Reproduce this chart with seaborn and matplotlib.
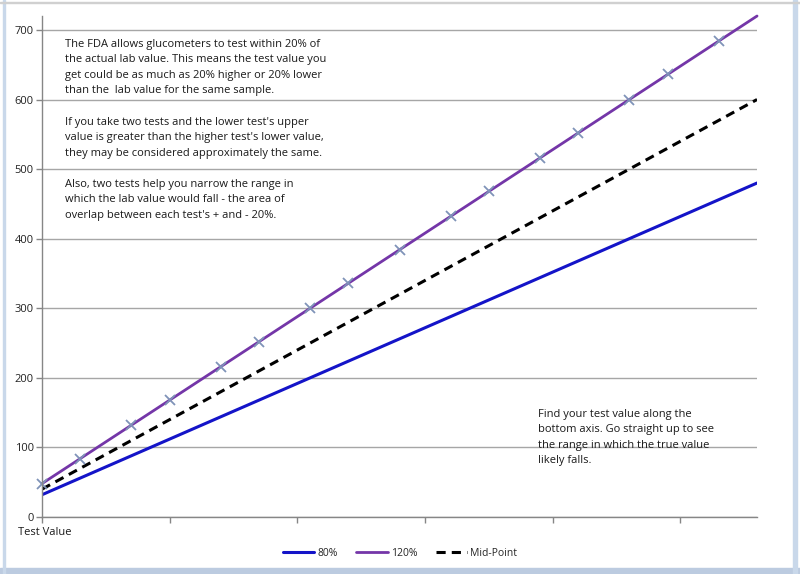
import numpy as np
import pandas as pd
import matplotlib
matplotlib.use("Agg")
import matplotlib.pyplot as plt
import matplotlib.patches as mpatches
from matplotlib.lines import Line2D
import seaborn as sns

# ------------------------------------------------------------------ #
# Data
# ------------------------------------------------------------------ #
test_values = [40, 70, 110, 140, 180, 210, 250, 280, 320, 360, 390,
               430, 460, 500, 530, 570, 600]
low_80 = [32, 56, 88, 112, 144, 168, 200, 224, 256, 288, 312,
          344, 368, 400, 424, 456, 480]
high_120 = [48, 84, 132, 168, 216, 252, 300, 336, 384, 432, 468,
            516, 552, 600, 636, 684, 720]
mid_point = [40, 70, 110, 140, 180, 210, 250, 280, 320, 360, 390,
             430, 460, 500, 530, 570, 600]

y_ticks = [0, 100, 200, 300, 400, 500, 600, 700]
x_ticks = [40, 140, 240, 340, 440, 540]

notes_top = [
    "The FDA allows glucometers to test within 20% of\n"
    "the actual lab value. This means the test value you\n"
    "get could be as much as 20% higher or 20% lower\n"
    "than the  lab value for the same sample.",
    "If you take two tests and the lower test's upper\n"
    "value is greater than the higher test's lower value,\n"
    "they may be considered approximately the same.",
    "Also, two tests help you narrow the range in\n"
    "which the lab value would fall - the area of\n"
    "overlap between each test's + and - 20%.",
]
note_right = ("Find your test value along the\n"
              "bottom axis. Go straight up to see\n"
              "the range in which the true value\n"
              "likely falls.")

df = pd.DataFrame({
    "test": test_values,
    "80%": low_80,
    "120%": high_120,
    "Mid-Point": mid_point,
})

C_LOW, C_HIGH, C_MID = "#1414c8", "#7436a8", "black"

# ------------------------------------------------------------------ #
# Figure
# ------------------------------------------------------------------ #
sns.set_style("white")
plt.rcParams["font.family"] = ["Open Sans", "DejaVu Sans"]

fig = plt.figure(figsize=(8.0, 5.74), dpi=100)
ax = fig.add_axes([0.0525, 0.0993, 0.8938, 0.8728])

sns.lineplot(data=df, x="test", y="80%", ax=ax, color=C_LOW, lw=2.2)
sns.lineplot(data=df, x="test", y="Mid-Point", ax=ax, color=C_MID,
             lw=2.2, ls=(0, (3, 2)))
sns.lineplot(data=df, x="test", y="120%", ax=ax, color=C_HIGH,
             lw=2.0, marker="x", markersize=7,
             markeredgecolor="#7f93b8", markeredgewidth=1.3,
             markevery=list(range(len(test_values) - 1)), clip_on=False)

ax.set_xlim(40, 600)
ax.set_ylim(0, 720)
ax.set_yticks(y_ticks)
ax.set_xticks(x_ticks)
ax.set_xticklabels([])
ax.yaxis.grid(True, color="#a6a6a6", lw=1.0)
ax.set_axisbelow(True)
for s in ["top", "right"]:
    ax.spines[s].set_visible(False)
for s in ["left", "bottom"]:
    ax.spines[s].set_color("#868686")
    ax.spines[s].set_linewidth(1.0)
ax.tick_params(axis="both", length=4, width=1, color="#868686",
               labelsize=8, labelcolor="#222222", pad=2,
               left=True, bottom=True)
ax.set_xlabel("")
ax.set_ylabel("")

# annotations
tkw = dict(fontsize=8.0, color="#1a1a1a", linespacing=1.55,
           va="top", ha="left", transform=fig.transFigure)
fig.text(65 / 800, 1 - 39 / 574, notes_top[0], **tkw)
fig.text(65 / 800, 1 - 117 / 574, notes_top[1], **tkw)
fig.text(65 / 800, 1 - 179 / 574, notes_top[2], **tkw)
fig.text(538 / 800, 1 - 409 / 574, note_right, **tkw)
fig.text(18 / 800, 1 - 527 / 574, "Test Value", fontsize=8.0,
         color="#1a1a1a", va="top", ha="left")

handles = [
    Line2D([], [], color=C_LOW, lw=2.2),
    Line2D([], [], color=C_HIGH, lw=2.0),
    Line2D([], [], color=C_MID, lw=2.2, ls=(0, (3, 2))),
]
ax.legend(handles, ["80%", "120%", "Mid-Point"], loc="center",
          bbox_to_anchor=(0.5, 1 - 553 / 574),
          bbox_transform=fig.transFigure, ncol=3, frameon=False,
          fontsize=7.5, handlelength=3.0, columnspacing=1.8,
          handletextpad=0.3)

# window frame of the original screenshot
fig.patches.append(mpatches.Rectangle((0, 0), 1, 6 / 574,
                   transform=fig.transFigure, color="#bccbe0", zorder=0))
fig.patches.append(mpatches.Rectangle((3 / 800, 0), 2 / 800, 1,
                   transform=fig.transFigure, color="#c9d8ea", zorder=0))
fig.patches.append(mpatches.Rectangle((793 / 800, 0), 4 / 800, 1,
                   transform=fig.transFigure, color="#c9d8ea", zorder=0))
fig.patches.append(mpatches.Rectangle((0, 1 - 3 / 574), 1, 1 / 574,
                   transform=fig.transFigure, color="#d0d0d0", zorder=0))

fig.savefig("out.png", dpi=100)
plt.close(fig)
